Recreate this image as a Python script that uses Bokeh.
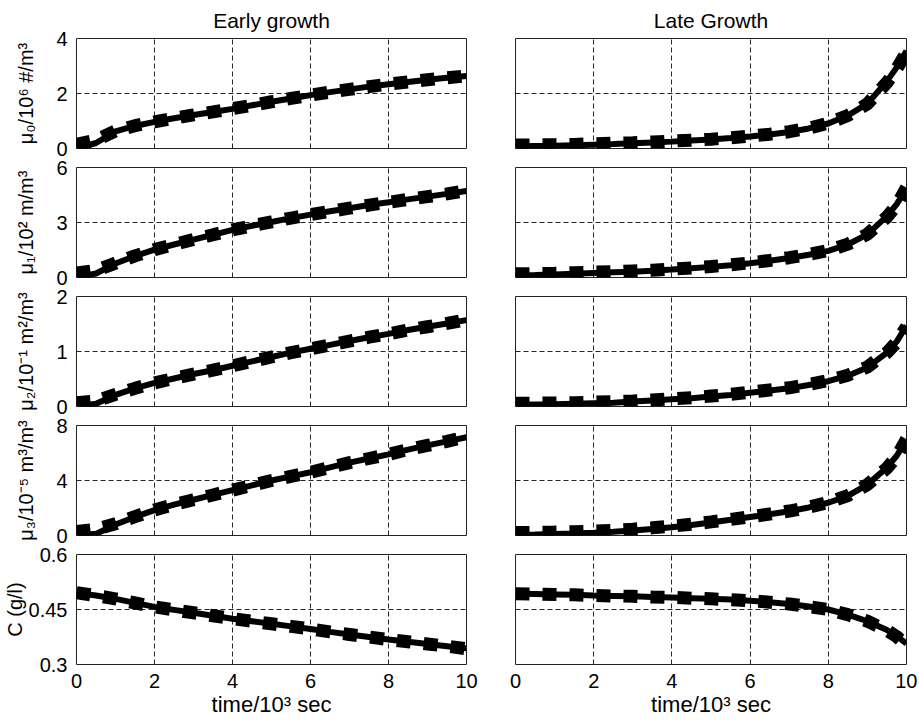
from bokeh.plotting import figure
from bokeh.layouts import gridplot
from bokeh.models import FixedTicker, Range1d
from bokeh.embed import file_html
from bokeh.resources import INLINE

# ---------------- data ----------------
col_titles = ["Early growth", "Late Growth"]

t_early = [0, 0.5, 1, 1.5, 2, 2.5, 3, 3.5, 4, 4.5, 5, 5.5, 6, 6.5, 7, 7.5, 8, 8.5, 9, 9.5, 10]
t_late = [0, 0.5, 1, 1.5, 2, 2.5, 3, 3.5, 4, 4.5, 5, 5.5, 6, 6.5, 7, 7.5, 8, 8.5, 9, 9.5, 9.75, 10]

# Early growth: solid curve and dashed curve
mu0_early_solid = [0.0, 0.2, 0.62, 0.82, 0.97, 1.1, 1.22, 1.33, 1.44, 1.57, 1.7, 1.82, 1.94, 2.05, 2.15, 2.25, 2.34, 2.42, 2.5, 2.57, 2.64]
mu0_early_dash = [0.15, 0.3, 0.64, 0.83, 0.97, 1.1, 1.22, 1.33, 1.45, 1.57, 1.7, 1.82, 1.94, 2.05, 2.15, 2.25, 2.34, 2.42, 2.5, 2.57, 2.64]
mu1_early_solid = [0.0, 0.22, 0.76, 1.17, 1.52, 1.8, 2.07, 2.33, 2.6, 2.82, 3.03, 3.24, 3.43, 3.61, 3.78, 3.95, 4.1, 4.26, 4.41, 4.56, 4.72]
mu1_early_dash = [0.25, 0.38, 0.78, 1.18, 1.52, 1.8, 2.07, 2.33, 2.6, 2.82, 3.03, 3.24, 3.43, 3.61, 3.78, 3.95, 4.1, 4.26, 4.41, 4.56, 4.74]
mu2_early_solid = [0.0, 0.05, 0.21, 0.33, 0.43, 0.51, 0.59, 0.66, 0.74, 0.82, 0.9, 0.98, 1.05, 1.12, 1.19, 1.26, 1.32, 1.39, 1.45, 1.51, 1.57]
mu2_early_dash = [0.07, 0.1, 0.22, 0.33, 0.43, 0.51, 0.59, 0.66, 0.74, 0.82, 0.9, 0.98, 1.05, 1.12, 1.19, 1.26, 1.32, 1.39, 1.45, 1.51, 1.58]
mu3_early_solid = [0.0, 0.12, 0.8, 1.35, 1.85, 2.25, 2.6, 2.95, 3.3, 3.65, 4.0, 4.3, 4.6, 4.95, 5.3, 5.6, 5.9, 6.25, 6.55, 6.85, 7.15]
mu3_early_dash = [0.3, 0.45, 0.85, 1.37, 1.86, 2.25, 2.6, 2.95, 3.3, 3.65, 4.0, 4.3, 4.6, 4.95, 5.3, 5.6, 5.9, 6.25, 6.55, 6.85, 7.18]
c_early_solid = [0.495, 0.488, 0.479, 0.468, 0.457, 0.449, 0.441, 0.433, 0.425, 0.418, 0.411, 0.404, 0.397, 0.389, 0.382, 0.375, 0.368, 0.362, 0.356, 0.35, 0.344]
c_early_dash = [0.496, 0.488, 0.479, 0.468, 0.457, 0.449, 0.441, 0.433, 0.425, 0.418, 0.411, 0.404, 0.397, 0.389, 0.382, 0.375, 0.368, 0.362, 0.356, 0.35, 0.343]

# Late growth: solid curve and dashed curve
mu0_late_solid = [0.08, 0.09, 0.1, 0.12, 0.14, 0.16, 0.19, 0.22, 0.25, 0.29, 0.33, 0.38, 0.44, 0.51, 0.6, 0.73, 0.91, 1.2, 1.63, 2.45, 2.95, 3.55]
mu0_late_dash = [0.13, 0.13, 0.14, 0.15, 0.17, 0.19, 0.21, 0.24, 0.27, 0.3, 0.34, 0.39, 0.45, 0.52, 0.61, 0.74, 0.92, 1.2, 1.62, 2.4, 2.9, 3.5]
mu1_late_solid = [0.12, 0.14, 0.17, 0.2, 0.24, 0.28, 0.32, 0.37, 0.43, 0.5, 0.58, 0.67, 0.78, 0.91, 1.06, 1.24, 1.45, 1.8, 2.35, 3.35, 4.0, 4.85]
mu1_late_dash = [0.2, 0.21, 0.23, 0.26, 0.29, 0.32, 0.36, 0.4, 0.46, 0.52, 0.6, 0.69, 0.8, 0.93, 1.08, 1.26, 1.47, 1.82, 2.36, 3.3, 3.95, 4.9]
mu2_late_solid = [0.03, 0.035, 0.04, 0.05, 0.06, 0.07, 0.09, 0.11, 0.13, 0.15, 0.18, 0.21, 0.25, 0.29, 0.33, 0.39, 0.46, 0.56, 0.71, 0.98, 1.18, 1.47]
mu2_late_dash = [0.06, 0.06, 0.065, 0.07, 0.08, 0.09, 0.1, 0.12, 0.14, 0.16, 0.19, 0.22, 0.26, 0.3, 0.34, 0.4, 0.47, 0.57, 0.72, 0.98, 1.17, 1.45]
mu3_late_solid = [0.06, 0.08, 0.11, 0.15, 0.2, 0.27, 0.36, 0.47, 0.6, 0.76, 0.95, 1.14, 1.34, 1.54, 1.76, 2.04, 2.38, 2.88, 3.7, 4.95, 5.8, 6.95]
mu3_late_dash = [0.22, 0.23, 0.25, 0.28, 0.32, 0.38, 0.46, 0.56, 0.68, 0.82, 0.99, 1.17, 1.36, 1.56, 1.78, 2.06, 2.4, 2.9, 3.7, 4.9, 5.75, 7.0]
c_late_solid = [0.493, 0.492, 0.491, 0.49, 0.488, 0.487, 0.486, 0.484, 0.483, 0.481, 0.479, 0.477, 0.474, 0.47, 0.465, 0.458, 0.45, 0.436, 0.418, 0.394, 0.378, 0.357]
c_late_dash = [0.493, 0.492, 0.491, 0.49, 0.488, 0.487, 0.486, 0.484, 0.483, 0.481, 0.479, 0.477, 0.474, 0.47, 0.465, 0.458, 0.45, 0.436, 0.418, 0.393, 0.376, 0.352]

y_labels = ["μ₀/10⁶ #/m³", "μ₁/10² m/m³", "μ₂/10⁻¹ m²/m³", "μ₃/10⁻⁵ m³/m³", "C (g/l)"]
y_ranges = [(0, 4), (0, 6), (0, 2), (0, 8), (0.3, 0.6)]
y_ticks = [[0, 2, 4], [0, 3, 6], [0, 1, 2], [0, 4, 8], [0.3, 0.45, 0.6]]
y_tick_labels = [["0", "2", "4"], ["0", "3", "6"], ["0", "1", "2"], ["0", "4", "8"], ["0.3", "0.45", "0.6"]]
x_ticks = [0, 2, 4, 6, 8, 10]
x_tick_labels = ["0", "2", "4", "6", "8", "10"]
x_label = "time/10³ sec"

early = [(mu0_early_solid, mu0_early_dash), (mu1_early_solid, mu1_early_dash),
         (mu2_early_solid, mu2_early_dash), (mu3_early_solid, mu3_early_dash),
         (c_early_solid, c_early_dash)]
late = [(mu0_late_solid, mu0_late_dash), (mu1_late_solid, mu1_late_dash),
        (mu2_late_solid, mu2_late_dash), (mu3_late_solid, mu3_late_dash),
        (c_late_solid, c_late_dash)]
times = [t_early, t_late]
series = [early, late]

FONT = "Liberation Sans"


def make_panel(row, col):
    left = col == 0
    top = row == 0
    bottom = row == 4
    p = figure(frame_width=390 if left else 391, frame_height=110,
               x_range=Range1d(0, 10), y_range=Range1d(*y_ranges[row]),
               output_backend="svg", toolbar_location=None,
               min_border_left=69 if left else 29,
               min_border_right=20 if left else 11,
               min_border_top=33 if top else 9,
               min_border_bottom=0 if bottom else 10,
               title=col_titles[col] if top else None)
    p.background_fill_color = "white"
    p.border_fill_color = "white"
    p.outline_line_color = "#222222"
    p.outline_line_width = 1
    p.outline_line_alpha = 1

    if top:
        p.title.align = "center"
        p.title.text_font = FONT
        p.title.text_font_size = "21px"
        p.title.text_font_style = "normal"
        p.title.text_color = "black"
        p.title.standoff = 13

    xt = FixedTicker(ticks=x_ticks)
    yt = FixedTicker(ticks=y_ticks[row])
    p.xaxis.ticker = xt
    p.yaxis.ticker = yt
    p.xgrid.ticker = xt
    p.ygrid.ticker = yt
    for g in (p.xgrid, p.ygrid):
        g.grid_line_color = "black"
        g.grid_line_dash = "5 3"
        g.grid_line_width = 1
        g.grid_line_alpha = 0.85

    for ax in (p.xaxis, p.yaxis):
        ax.axis_line_color = None
        ax.major_tick_line_color = None
        ax.minor_tick_line_color = None
        ax.major_label_text_font = FONT
        ax.major_label_text_font_size = "20px"
        ax.major_label_text_color = "black"
        ax.axis_label_text_font = FONT
        ax.axis_label_text_font_style = "normal"
        ax.axis_label_text_color = "black"

    if bottom:
        p.xaxis.major_label_overrides = {v: s for v, s in zip(x_ticks, x_tick_labels)}
        p.xaxis.major_label_standoff = 3
        p.xaxis.axis_label = x_label
        p.xaxis.axis_label_text_font_size = "22px"
        p.xaxis.axis_label_standoff = 1
    else:
        p.xaxis.visible = False

    if left:
        p.yaxis.major_label_overrides = {v: s for v, s in zip(y_ticks[row], y_tick_labels[row])}
        p.yaxis.major_label_standoff = 3
        p.yaxis.axis_label = y_labels[row]
        p.yaxis.axis_label_text_font_size = "20px"
        p.yaxis.axis_label_standoff = 0 if row == 4 else 16
    else:
        p.yaxis.visible = False

    t = times[col]
    solid, dash = series[col][row]
    p.line(t, solid, line_width=6, line_color="black")
    p.line(t, dash, line_width=13, line_color="black", line_dash="14 13", line_cap="butt")
    return p


grid = [[make_panel(r, c) for c in range(2)] for r in range(5)]
layout = gridplot(grid, toolbar_location=None)

open("out.html", "w").write(file_html(layout, INLINE))
